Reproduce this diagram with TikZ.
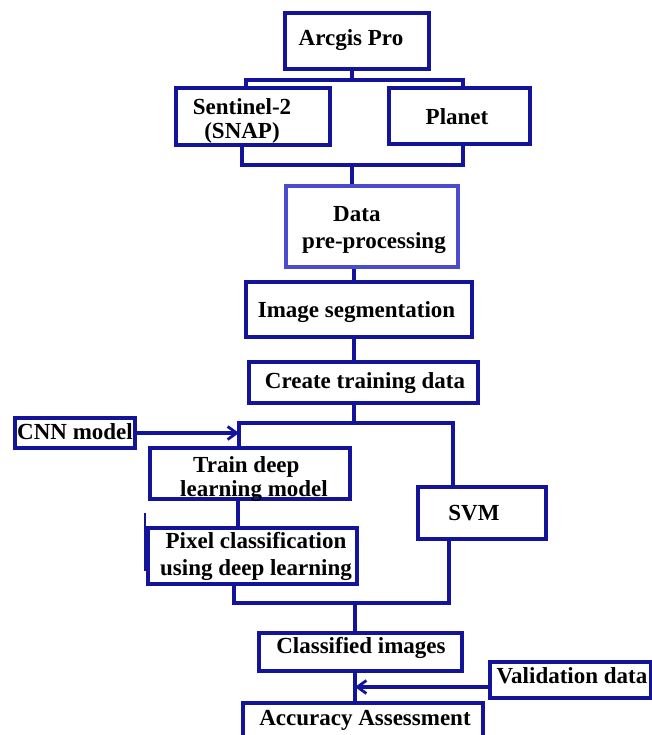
\documentclass[tikz,border=0pt]{standalone}
\usepackage{fontspec}
\setmainfont{Liberation Serif}
\usetikzlibrary{arrows.meta}
\definecolor{mb}{RGB}{20,20,155}
\definecolor{lb}{RGB}{75,75,205}
\newcommand\bxt[4][c]{\raisebox{#3}[\height][\depth]{\hspace*{#2}\begin{tabular}{@{}#1@{}}#4\end{tabular}\hspace*{-#2}}}
\begin{document}
\begin{tikzpicture}[x=1pt,y=-1pt,
  box/.style={draw=mb,line width=3.3pt,inner sep=0pt,font=\fontsize{23}{24}\selectfont\bfseries},
  wire/.style={draw=mb,line width=3.3pt},
  arr/.style={wire,-{Straight Barb[length=9pt,width=13pt,line width=2.8pt]}}]
\useasboundingbox (0,0) rectangle (652,735);
\clip (0,0) rectangle (652,735);
\fill[white] (0,0) rectangle (652,735);

% boxes
\node[box,minimum width=144pt,minimum height=56pt] (arc) at (357,41) {\bxt{-6pt}{0pt}{Arcgis Pro}};
\node[box,minimum width=154pt,minimum height=57pt] (sen) at (253,116.5) {\bxt{-11pt}{-5.7pt}{Sentinel-2\\(SNAP)}};
\node[box,minimum width=141pt,minimum height=56pt] (pla) at (459.5,116) {\bxt{-2.5pt}{-4.2pt}{Planet}};
\node[box,draw=lb,minimum width=172pt,minimum height=81pt] (dat) at (372,226.5) {\bxt[l]{2pt}{-3.2pt}{\hspace*{31pt}Data\\[3pt]pre-processing}};
\node[box,minimum width=226pt,minimum height=55pt] (img) at (359,309.5) {\bxt{-2.5pt}{-2.7pt}{Image segmentation}};
\node[box,minimum width=229pt,minimum height=41pt] (cre) at (363.5,382.5) {\bxt{1.5pt}{-0.7pt}{Create training data}};
\node[box,minimum width=120pt,minimum height=30pt] (cnn) at (75,433) {\bxt{0pt}{-1.2pt}{CNN model}};
\node[box,minimum width=200pt,minimum height=51pt] (tra) at (250,473.5) {\bxt[l]{4pt}{-5.7pt}{\hspace*{13pt}Train deep\\learning model}};
\node[box,minimum width=209pt,minimum height=56pt] (pix) at (252.5,556) {\bxt{3.5pt}{-0.7pt}{Pixel classification\\[3pt]using deep learning}};
\node[box,minimum width=128pt,minimum height=52pt] (svm) at (482,513) {\bxt{-8pt}{-2.2pt}{SVM}};
\node[box,minimum width=203pt,minimum height=38pt] (cls) at (360.5,652) {\bxt{0.5pt}{3pt}{Classified images}};
\node[box,minimum width=161pt,minimum height=36pt] (val) at (570.5,680) {\bxt{1.5pt}{1.8pt}{Validation data}};
\node[box,minimum width=240pt,minimum height=42pt] (acc) at (363,724) {\bxt{2pt}{3.8pt}{Accuracy Assessment}};

% junction coordinates
\coordinate (j1) at (352,80);
\coordinate (jl1) at (246,80);
\coordinate (jr1) at (463,80);
\coordinate (j2) at (352,165);
\coordinate (jl2) at (242,165);
\coordinate (jr2) at (463,165);
\coordinate (m) at (354,0);
\coordinate (j3) at (354,423);
\coordinate (jl3) at (239,423);
\coordinate (jr3) at (453,423);
\coordinate (m2) at (238,0);
\coordinate (j4) at (355,603);
\coordinate (jl4) at (234,603);
\coordinate (jr4) at (449,603);
\coordinate (va) at ([yshift=-7pt]val.west);

% connectors
\draw[wire] (arc.south -| j1) -- (j1);
\draw[wire] (sen.north -| jl1) -- (jl1) -- (jr1) -- (pla.north -| jr1);
\draw[wire] (sen.south -| jl2) -- (jl2) -- (jr2) -- (pla.south -| jr2);
\draw[wire] (j2) -- (dat.north -| j2);
\draw[wire] (dat.south -| m) -- (img.north -| m);
\draw[wire] (img.south -| m) -- (cre.north -| m);
\draw[wire] (cre.south -| j3) -- (j3);
\draw[wire] (tra.north -| jl3) -- (jl3) -- (jr3) -- (svm.north -| jr3);
\draw[arr] (cnn.east) -- (cnn.east -| jl3);
\draw[wire] (tra.south -| m2) -- (pix.north -| m2);
\draw[wire] (pix.south -| jl4) -- (jl4) -- (jr4) -- (svm.south -| jr4);
\draw[wire] (j4) -- (cls.north -| j4);
\draw[wire] (cls.south -| j4) -- (acc.north -| j4);
\draw[arr] (va) -- (va -| j4);
% stray mark left of the pixel box
\draw[mb,line width=2pt] ([xshift=-1pt]pix.north west) ++(0,-13) -- ++(0,58);
\end{tikzpicture}
\end{document}
